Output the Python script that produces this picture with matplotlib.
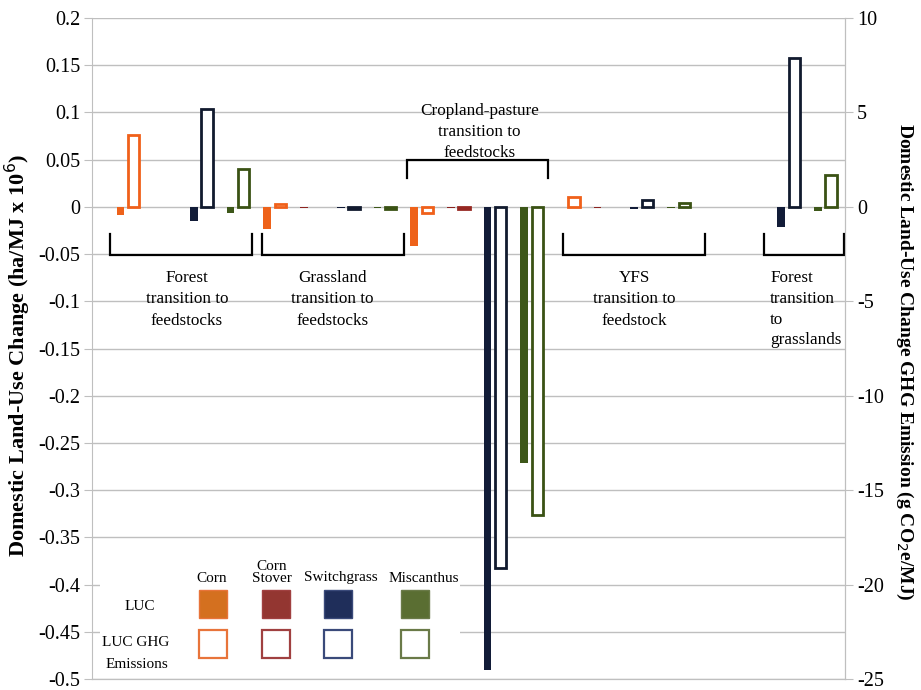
import numpy as np
import matplotlib
matplotlib.use("Agg")
import matplotlib.pyplot as plt
from matplotlib.patches import Rectangle
from matplotlib.ticker import FuncFormatter, FixedLocator

# ---- data -------------------------------------------------------------
feedstocks = ["Corn", "Corn Stover", "Switchgrass", "Miscanthus"]
transitions = [
    "Forest\ntransition to\nfeedstocks",
    "Grassland\ntransition to\nfeedstocks",
    "Cropland-pasture\ntransition to\nfeedstocks",
    "YFS\ntransition to\nfeedstock",
    "Forest\ntransition\nto\ngrasslands",
]

# land-use change, ha/MJ x 10^6 (left axis)
luc_forest = [-0.009, 0.0, -0.015, -0.006]
luc_grassland = [-0.023, -0.001, -0.001, -0.001]
luc_cropland_pasture = [-0.041, -0.001, -0.490, -0.271]
luc_yfs = [0.0, -0.001, -0.002, -0.001]
luc_forest_to_grass = [np.nan, np.nan, -0.021, -0.004]

# land-use change GHG emissions, g CO2e/MJ (right axis)
ghg_forest = [3.8, 0.0, 5.2, 2.0]
ghg_grassland = [0.15, 0.0, -0.1, -0.1]
ghg_cropland_pasture = [-0.35, -0.1, -19.1, -16.3]
ghg_yfs = [0.5, 0.0, 0.35, 0.2]
ghg_forest_to_grass = [np.nan, np.nan, 7.9, 1.7]

left_ticks = [0.2, 0.15, 0.1, 0.05, 0, -0.05, -0.1, -0.15, -0.2, -0.25,
              -0.3, -0.35, -0.4, -0.45, -0.5]
right_ticks = [10, 5, 0, -5, -10, -15, -20, -25]

luc_all = [luc_forest, luc_grassland, luc_cropland_pasture, luc_yfs, luc_forest_to_grass]
ghg_all = [ghg_forest, ghg_grassland, ghg_cropland_pasture, ghg_yfs, ghg_forest_to_grass]

# ---- style ------------------------------------------------------------
plt.rcParams["font.family"] = ["Liberation Serif", "DejaVu Serif"]
plt.rcParams["axes.unicode_minus"] = False

fill_colors = ["#EE621A", "#8C2420", "#121C38", "#3D5719"]
edge_colors = ["#F0601A", "#962822", "#111A2E", "#3A5214"]
key_fill = ["#D4701F", "#933631", "#1F2E5A", "#5A6E32"]
key_edge = ["#E8743A", "#A04040", "#3A4A7A", "#6A7A48"]
grid_c = "#BFBFBF"

W, H = 921, 690
AX_TOP, AX_BOT = 18, 679
fig = plt.figure(figsize=(W / 100, H / 100), dpi=100)
ax = fig.add_axes([92 / W, 1 - AX_BOT / H, 753 / W, (AX_BOT - AX_TOP) / H])
ax2 = ax.twinx()

# bars: solid = land-use change, outlined = GHG emissions
n_f = len(feedstocks)
for g, (luc, ghg) in enumerate(zip(luc_all, ghg_all)):
    for j in range(n_f):
        k = g * n_f + j
        if not np.isnan(luc[j]) and luc[j] != 0:
            ax.bar(k - 0.17, luc[j], width=0.21, color=fill_colors[j],
                   linewidth=0, zorder=3)
        if not np.isnan(ghg[j]) and ghg[j] != 0:
            ax2.bar(k + 0.19, ghg[j], width=0.31, facecolor="white",
                    edgecolor=edge_colors[j], linewidth=2.0, zorder=3)

# group brackets
bracket_spans = [(-0.45, 3.42), (3.68, 7.56), (7.63, 11.49), (11.90, 15.76), (17.37, 19.55)]
for g, (x0, x1) in enumerate(bracket_spans):
    if g == 2:
        ys = [0.0301, 0.0494, 0.0494, 0.0301]
    else:
        ys = [-0.029, -0.0512, -0.0512, -0.029]
    ax.plot([x0, x0, x1, x1], ys, color="black", linewidth=1.6,
            solid_joinstyle="miter", zorder=4)

text_x = [1.64, 5.60, 9.61, 13.84, 17.53]
for g, label in enumerate(transitions):
    if g == 2:
        ax.text(text_x[g], 0.1105, label, ha="center", va="top",
                fontsize=12.3, linespacing=1.45, zorder=5)
    elif g == 4:
        ax.text(text_x[g], -0.0668, label, ha="left", va="top",
                fontsize=12.3, linespacing=1.4, zorder=5)
    else:
        ax.text(text_x[g], -0.0668, label, ha="center", va="top",
                fontsize=12.3, linespacing=1.45, zorder=5)

# axes, ticks, gridlines
ax.set_ylim(-0.5, 0.2)
ax2.set_ylim(-25, 10)
ax.set_xlim(-0.945, 19.57)
ax2.set_xlim(-0.945, 19.57)
ax.yaxis.set_major_locator(FixedLocator(left_ticks))
ax2.yaxis.set_major_locator(FixedLocator(right_ticks))
ax.yaxis.set_major_formatter(FuncFormatter(lambda v, p: f"{v:g}"))
ax2.yaxis.set_major_formatter(FuncFormatter(lambda v, p: f"{v:g}"))
ax.grid(axis="y", color=grid_c, linewidth=1.0, zorder=0)
ax.set_axisbelow(True)
ax.set_xticks([])
for a in (ax, ax2):
    a.spines["top"].set_visible(False)
    a.spines["left"].set_color(grid_c)
    a.spines["right"].set_color(grid_c)
    a.spines["bottom"].set_color(grid_c)
    a.tick_params(axis="y", length=6, color=grid_c, labelsize=14.5, pad=2.5)
ax2.spines["left"].set_visible(False)

ax_h = AX_BOT - AX_TOP
ax.set_ylabel("Domestic Land-Use Change (ha/MJ x 10$^{6}$)", fontsize=16,
              fontweight="bold", va="center")
ax.yaxis.set_label_coords(-(92 - 18) / 753, (AX_BOT - 355) / ax_h)
ax2.set_ylabel("Domestic Land-Use Change GHG Emission (g CO$_{2}$e/MJ)",
               fontsize=14, fontweight="bold", rotation=-90, va="center")
ax2.yaxis.set_label_coords(1 + (905 - 845) / 753, (AX_BOT - 362) / ax_h)

# key (drawn in figure pixels)
def fx(px):
    return px / W

def fy(py):
    return 1 - py / H

fig.add_artist(Rectangle((fx(100), fy(677)), fx(460) - fx(100), fy(552) - fy(677),
                         transform=fig.transFigure, facecolor="white",
                         edgecolor="none", zorder=5))
sq_x = [212.5, 276, 338, 415]
head_x = [212, 272, 341, 424]
for j in range(n_f):
    fig.add_artist(Rectangle((fx(sq_x[j] - 14), fy(618)), 28 / W, 28 / H,
                             transform=fig.transFigure, facecolor=key_fill[j],
                             edgecolor=key_edge[j], linewidth=1.0, zorder=6))
    fig.add_artist(Rectangle((fx(sq_x[j] - 14), fy(658)), 28 / W, 28 / H,
                             transform=fig.transFigure, facecolor="white",
                             edgecolor=key_edge[j], linewidth=1.6, zorder=6))
    if feedstocks[j] == "Corn Stover":
        fig.text(fx(head_x[j]), fy(567), "Corn", ha="center", va="center",
                 fontsize=11, zorder=7)
        fig.text(fx(head_x[j]), fy(579), "Stover", ha="center", va="center",
                 fontsize=11, zorder=7)
    else:
        fig.text(fx(head_x[j]), fy(578), feedstocks[j], ha="center",
                 va="center", fontsize=11, zorder=7)
fig.text(fx(140), fy(607), "LUC", ha="center", va="center", fontsize=11, zorder=7)
fig.text(fx(136), fy(643), "LUC GHG", ha="center", va="center", fontsize=11, zorder=7)
fig.text(fx(137), fy(664), "Emissions", ha="center", va="center", fontsize=11, zorder=7)

fig.savefig("out.png", dpi=100)
